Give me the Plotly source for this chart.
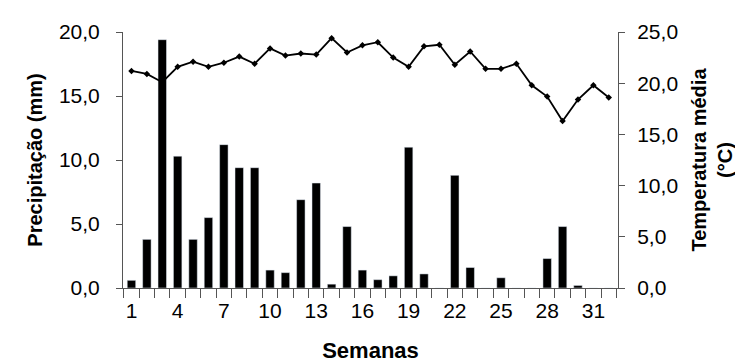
import plotly.graph_objects as go

weeks = list(range(1, 33))
precip = [0.6, 3.8, 19.4, 10.3, 3.8, 5.5, 11.2, 9.4, 9.4, 1.4, 1.2, 6.9, 8.2, 0.3, 4.8, 1.4,
          0.65, 0.95, 11.0, 1.1, 0.0, 8.8, 1.6, 0.0, 0.8, 0.0, 0.0, 2.3, 4.8, 0.2, 0.0, 0.0]
temp = [21.2, 20.9, 20.1, 21.6, 22.1, 21.6, 22.0, 22.6, 21.9, 23.4, 22.7, 22.9, 22.8, 24.4, 23.0, 23.7,
        24.0, 22.5, 21.6, 23.6, 23.75, 21.8, 23.1, 21.4, 21.4, 21.9, 19.8, 18.7, 16.3, 18.4, 19.8, 18.6]
label_weeks = [1, 4, 7, 10, 13, 16, 19, 22, 25, 28, 31]
left_ticks = [0, 5, 10, 15, 20]
right_ticks = [0, 5, 10, 15, 20, 25]

font = "Liberation Sans, Arial, sans-serif"
axcol = "#555"
boundaries = [w - 0.5 for w in weeks] + [weeks[-1] + 0.5]
xrange_ = [0.45, 32.6]

fig = go.Figure()
fig.add_trace(go.Bar(x=weeks, y=precip, marker_color="black", width=0.55, xaxis="x", yaxis="y"))
fig.add_trace(go.Scatter(x=weeks, y=temp, xaxis="x2", yaxis="y2", mode="lines+markers",
                         line=dict(color="black", width=1.8),
                         marker=dict(symbol="diamond", size=5, color="black")))

fig.update_layout(
    width=743, height=364,
    margin=dict(l=115, r=133, t=24, b=84),
    paper_bgcolor="white", plot_bgcolor="white",
    showlegend=False,
    separators=",.",
    font=dict(family=font, size=21, color="black"),
    # tick marks between weeks (no labels)
    xaxis=dict(range=xrange_, tickvals=boundaries, ticktext=[""] * len(boundaries),
               ticks="outside", ticklen=9, tickwidth=1, tickcolor=axcol,
               showline=True, linecolor=axcol, showgrid=False, zeroline=False,
               automargin=False),
    # week labels
    xaxis2=dict(range=xrange_, matches="x", overlaying="x", anchor="y", side="bottom",
                tickvals=label_weeks, ticktext=[str(w) for w in label_weeks],
                ticks="", showline=False, showgrid=False, zeroline=False, tickangle=0,
                ticklabelstandoff=8, automargin=False,
                title=dict(text="<b>Semanas</b>", standoff=21, font=dict(size=22))),
    yaxis=dict(range=[0, 20], tickvals=left_ticks, tickformat=".1f",
               ticks="outside", ticklen=6, tickcolor=axcol, showline=True, linecolor=axcol,
               showgrid=False, zeroline=False, ticklabelstandoff=12, automargin=False,
               title=dict(text="<b>Precipitação (mm)</b>", standoff=10, font=dict(size=20))),
    yaxis2=dict(range=[0, 25], tickvals=right_ticks, tickformat=".1f", overlaying="y", side="right",
                anchor="x", ticks="outside", ticklen=6, tickcolor=axcol, showline=True, linecolor=axcol,
                showgrid=False, zeroline=False, ticklabelstandoff=8, automargin=False,
                title=dict(text="<b>Temperatura média<br>(°C)</b>", standoff=14, font=dict(size=20))),
)

fig.write_html("out.html")
